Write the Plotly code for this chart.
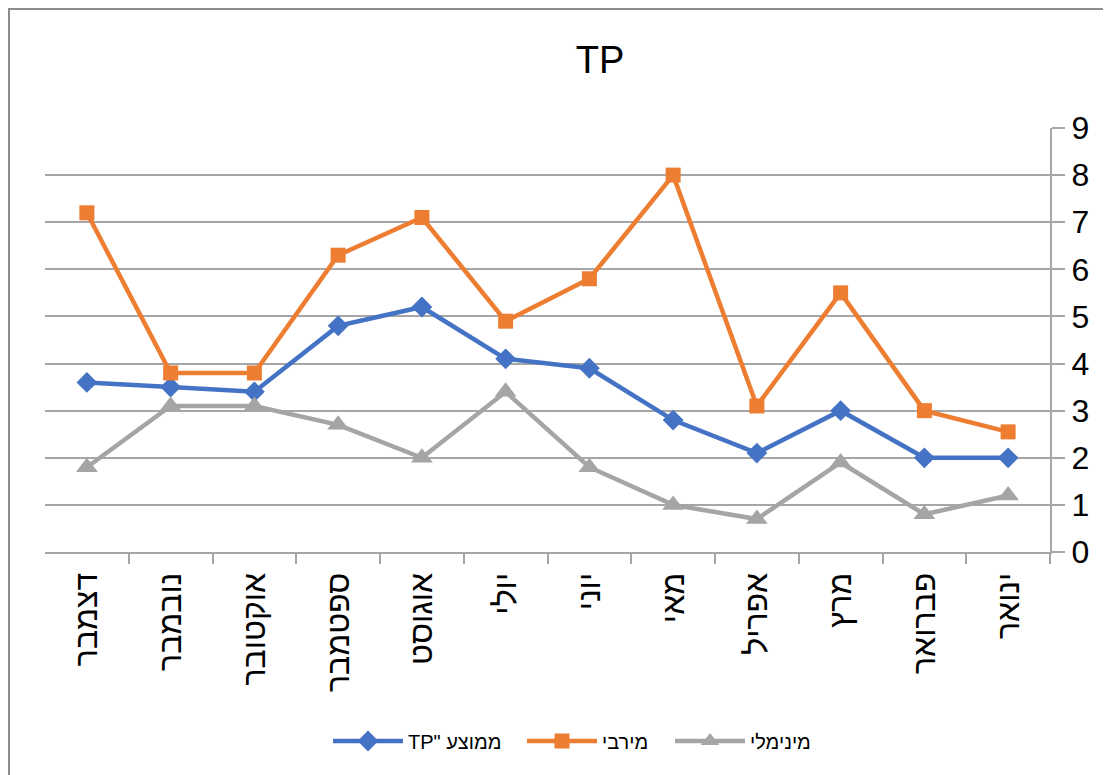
import plotly.graph_objects as go

months = ["ינואר", "פברואר", "מרץ", "אפריל", "מאי", "יוני",
          "יולי", "אוגוסט", "ספטמבר", "אוקטובר", "נובמבר", "דצמבר"]
avg_tp = [2.0, 2.0, 3.0, 2.1, 2.8, 3.9, 4.1, 5.2, 4.8, 3.4, 3.5, 3.6]
max_tp = [2.55, 3.0, 5.5, 3.1, 8.0, 5.8, 4.9, 7.1, 6.3, 3.8, 3.8, 7.2]
min_tp = [1.2, 0.8, 1.9, 0.7, 1.0, 1.8, 3.4, 2.0, 2.7, 3.1, 3.1, 1.8]
y_ticks = [0, 1, 2, 3, 4, 5, 6, 7, 8, 9]

series_names = ['TP" ממוצע', "מירבי", "מינימלי"]
colors = ["#4472C4", "#ED7D31", "#A5A5A5"]
symbols = ["diamond", "square", "triangle-up"]
marker_sizes = [16, 15, 19]
legend_ids = ["legend", "legend2", "legend3"]

FONT = "Arial, 'Liberation Sans', 'DejaVu Sans', sans-serif"

# the page body adds an 8px offset; figure coordinates compensate for it
OFF = 8
W, H = 1111, 775
L, R, T, B = 45 - OFF, W + OFF - 1050, 128 - OFF, H + OFF - 552
pw, ph = W - L - R, H - T - B

fig = go.Figure()
for name, vals, col, sym, ms, lg in zip(series_names, [avg_tp, max_tp, min_tp],
                                        colors, symbols, marker_sizes, legend_ids):
    fig.add_trace(go.Scatter(
        x=months, y=vals, name=name, mode="lines+markers",
        line=dict(color=col, width=4.5),
        marker=dict(symbol=sym, size=ms, color=col),
        legend=lg,
    ))

legend_starts = [333, 527, 675]  # page x of each legend entry line start
legend_common = dict(orientation="h", xanchor="left", xref="container",
                     y=1 - (741 - OFF) / H, yref="container", yanchor="middle",
                     font=dict(size=20, color="#000000", family=FONT),
                     itemwidth=70, bgcolor="rgba(0,0,0,0)")

n = len(months)
fig.update_layout(
    width=W, height=H,
    margin=dict(l=L, r=R, t=T, b=B, autoexpand=False),
    paper_bgcolor="white", plot_bgcolor="white",
    font=dict(family=FONT, color="#000000"),
    title=dict(text="TP", x=(600 - OFF - L) / pw, xref="paper", xanchor="center",
               y=1 - (60 - OFF) / H, yanchor="middle",
               font=dict(size=38, color="#000000", family=FONT)),
    showlegend=True,
    legend=dict(x=(legend_starts[0] - OFF - 5) / W, **legend_common),
    legend2=dict(x=(legend_starts[1] - OFF - 5) / W, **legend_common),
    legend3=dict(x=(legend_starts[2] - OFF - 5) / W, **legend_common),
    xaxis=dict(
        type="category", categoryorder="array", categoryarray=months,
        range=[n - 0.5, -0.5], automargin=False,
        showgrid=False, showline=True, linecolor="#A6A6A6", linewidth=2,
        ticks="outside", ticklen=10, tickcolor="#A6A6A6", tickwidth=2,
        tickson="boundaries", tickangle=-90, ticklabelstandoff=6,
        tickfont=dict(size=32, color="#000000", family=FONT),
    ),
    yaxis=dict(
        side="right", range=[0, 9], tickvals=y_ticks, automargin=False,
        showgrid=True, gridcolor="#A6A6A6", gridwidth=2,
        showline=True, linecolor="#A6A6A6", linewidth=2,
        ticks="outside", ticklen=13, tickcolor="#A6A6A6", tickwidth=2,
        tickfont=dict(size=32, color="#000000", family=FONT),
        zeroline=False,
    ),
)

# outer chart border (partially cropped in the reference)
fig.add_shape(type="rect", xref="paper", yref="paper",
              x0=(9 - OFF - L) / pw, x1=(W + 20 - L) / pw,
              y0=-(H + 20 - T - ph) / ph, y1=1 + (T - (9 - OFF)) / ph,
              line=dict(color="#8C8C8C", width=2), fillcolor="rgba(0,0,0,0)",
              layer="below")

fig.write_html("out.html")
